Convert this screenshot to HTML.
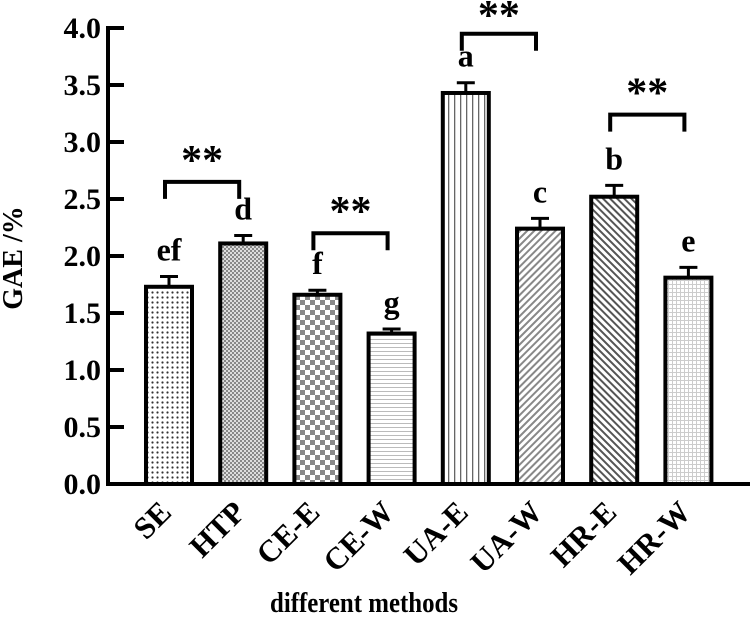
<!DOCTYPE html>
<html><head><meta charset="utf-8"><style>
html,body{margin:0;padding:0;background:#fff;}
svg{display:block;font-family:"Liberation Serif",serif;font-weight:bold;}
</style></head><body>
<svg id="chart" width="750" height="621" viewBox="0 0 750 621">
<defs>
<pattern id="p0" width="5" height="5" patternUnits="userSpaceOnUse"><rect width="5" height="5" fill="#fff"/><circle cx="2.5" cy="2.5" r="1.1" fill="#333"/></pattern>
<pattern id="p1" width="4" height="4" patternUnits="userSpaceOnUse"><rect width="4" height="4" fill="#ddd"/><rect width="2" height="2" fill="#888"/><rect x="2" y="2" width="2" height="2" fill="#888"/></pattern>
<pattern id="p2" width="10" height="10" patternUnits="userSpaceOnUse"><rect width="10" height="10" fill="#fff"/><rect width="5" height="5" fill="#888"/><rect x="5" y="5" width="5" height="5" fill="#888"/></pattern>
<pattern id="p3" width="4" height="4" patternUnits="userSpaceOnUse"><rect width="4" height="4" fill="#fff"/><rect y="3" width="4" height="1" fill="#bbb"/></pattern>
<pattern id="p4" width="6" height="6" patternUnits="userSpaceOnUse"><rect width="6" height="6" fill="#fff"/><rect x="4" width="1.3" height="6" fill="#666"/></pattern>
<pattern id="p5" width="5" height="5" patternUnits="userSpaceOnUse" patternTransform="rotate(45)"><rect width="5" height="5" fill="#fff"/><rect width="2" height="5" fill="#888"/></pattern>
<pattern id="p6" width="5" height="5" patternUnits="userSpaceOnUse" patternTransform="rotate(-45)"><rect width="5" height="5" fill="#fff"/><rect width="2" height="5" fill="#555"/></pattern>
<pattern id="p7" width="4" height="4" patternUnits="userSpaceOnUse"><rect width="4" height="4" fill="#fff"/><rect width="4" height="1" fill="#ccc"/><rect width="1" height="4" fill="#ccc"/></pattern>
</defs>
<g id="plot"></g>
</svg>
<script>
const categories=["SE","HTP","CE-E","CE-W","UA-E","UA-W","HR-E","HR-W"];
const values=[1.73,2.11,1.66,1.32,3.43,2.24,2.52,1.81];
const errors=[0.09,0.07,0.04,0.04,0.09,0.09,0.10,0.09];
const letters=["ef","d","f","g","a","c","b","e"];
const yTicks=[0,0.5,1.0,1.5,2.0,2.5,3.0,3.5,4.0];
const brackets=[[0,1,2.65],[2,3,2.2],[4,5,3.95],[6,7,3.24]];
const NS="http://www.w3.org/2000/svg";
const g=document.getElementById('plot');
const x0=108,step=74.2,firstC=169,bw=46;
function xc(i){return firstC+i*step;}
function y(v){return 484-v*114;}
function mk(t,a,p){const e=document.createElementNS(NS,t);for(const k in a)e.setAttribute(k,a[k]);(p||g).appendChild(e);return e;}
let ax=mk('line',{x1:x0,y1:y(4)-2,x2:x0,y2:y(0)+2,stroke:'#000','stroke-width':4});


let bx=mk('line',{x1:x0-2,y1:y(0),x2:750,y2:y(0),stroke:'#000','stroke-width':4});


yTicks.forEach(t=>{
 let l=mk('line',{x1:x0,y1:y(t),x2:x0+16,y2:y(t),stroke:'#000','stroke-width':4});
 
 
 let tx=mk('text',{x:101,y:y(t)+10,'text-anchor':'end','font-size':30});
 tx.textContent=t.toFixed(1);
 
 
});
categories.forEach((c,i)=>{
 const cx=xc(i),top=y(values[i]),et=y(values[i]+errors[i]);
 let eb=mk('path',{d:`M${cx},${top} V${et} M${cx-9},${et} H${cx+9}`,stroke:'#000','stroke-width':3,fill:'none'});
 
 
 let r=mk('rect',{x:cx-bw/2,y:top,width:bw,height:y(0)-top,fill:`url(#p${i})`,stroke:'#000','stroke-width':4});
 
 
 let lt=mk('text',{x:cx,y:et-16,'text-anchor':'middle','font-size':32});
 lt.textContent=letters[i];
 
 
 let xl=mk('text',{x:0,y:0,'text-anchor':'end','font-size':31,transform:`translate(${cx+4},${y(0)+30}) rotate(-45)`});
 xl.textContent=c;
 
 
});
brackets.forEach(b=>{
 const a=xc(b[0])-4,c=xc(b[1])-4,yy=y(b[2]);
 let p=mk('path',{d:`M${a},${yy+17} V${yy} H${c} V${yy+17}`,stroke:'#000','stroke-width':4,fill:'none'});
 
 
 let s=mk('text',{x:(a+c)/2,y:Math.max(yy-8,29),'text-anchor':'middle','font-size':42});
 s.textContent='**';
 
 
});
let xt=mk('text',{x:364,y:612,'text-anchor':'middle','font-size':28,textLength:188,lengthAdjust:'spacingAndGlyphs'});
xt.textContent='different methods';


let yt=mk('text',{x:0,y:0,'text-anchor':'middle','font-size':28,transform:'translate(22,258) rotate(-90)'});
yt.textContent='GAE /%';


</script>
</body></html>
